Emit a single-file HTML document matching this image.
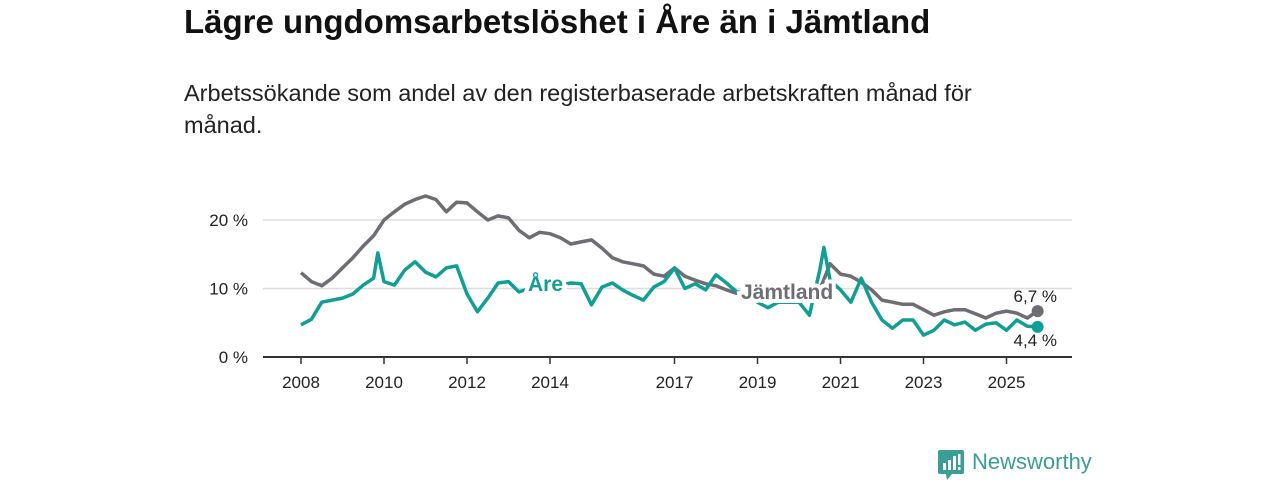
<!DOCTYPE html>
<html><head><meta charset="utf-8"><style>
body{margin:0;width:1280px;height:480px;background:#fff;font-family:"Liberation Sans","DejaVu Sans",sans-serif;overflow:hidden;position:relative}
h1{position:absolute;left:184px;top:3px;margin:0;font-size:33px;font-weight:bold;color:#111}
p{position:absolute;left:184px;top:77px;margin:0;font-size:23.5px;line-height:32px;color:#222;width:850px}
svg{position:absolute;left:0;top:0}
</style></head><body>
<h1>Lägre ungdomsarbetslöshet i Åre än i Jämtland</h1>
<p>Arbetssökande som andel av den registerbaserade arbetskraften månad för månad.</p>
<svg id="c" width="1280" height="480"></svg>
<script>
const xTickYears=[2008,2010,2012,2014,2017,2019,2021,2023,2025];
const yTicks=[0,10,20];
const jamtT=[2008,2008.25,2008.5,2008.75,2009,2009.25,2009.5,2009.75,2010,2010.25,2010.5,2010.75,2011,2011.25,2011.5,2011.75,2012,2012.25,2012.5,2012.75,2013,2013.25,2013.5,2013.75,2014,2014.25,2014.5,2014.75,2015,2015.25,2015.5,2015.75,2016,2016.25,2016.5,2016.75,2017,2017.25,2017.5,2017.75,2018,2018.25,2018.5,2018.75,2019,2019.25,2019.5,2019.75,2020,2020.25,2020.5,2020.75,2021,2021.25,2021.5,2021.75,2022,2022.25,2022.5,2022.75,2023,2023.25,2023.5,2023.75,2024,2024.25,2024.5,2024.75,2025,2025.25,2025.5,2025.75];
const jamtV=[12.3,11,10.4,11.5,13,14.5,16.2,17.7,20,21.2,22.3,23,23.5,23,21.2,22.6,22.5,21.2,20,20.6,20.3,18.5,17.4,18.2,18,17.4,16.5,16.8,17.1,15.9,14.5,13.9,13.6,13.3,12.1,11.8,13,11.8,11.2,10.7,10.4,9.8,9.3,9.2,9,8.8,8.8,8.9,9,9,9.8,13.6,12.1,11.8,10.9,9.8,8.3,8,7.7,7.7,6.9,6.1,6.6,6.9,6.9,6.3,5.7,6.4,6.7,6.4,5.7,6.7];
const areT=[2008,2008.25,2008.5,2008.75,2009,2009.25,2009.5,2009.75,2009.85,2010,2010.25,2010.5,2010.75,2011,2011.25,2011.5,2011.75,2012,2012.25,2012.5,2012.75,2013,2013.25,2013.5,2013.75,2014,2014.25,2014.5,2014.75,2015,2015.25,2015.5,2015.75,2016,2016.25,2016.5,2016.75,2017,2017.25,2017.5,2017.75,2018,2018.25,2018.5,2018.75,2019,2019.25,2019.5,2019.75,2020,2020.25,2020.5,2020.6,2020.75,2021,2021.25,2021.5,2021.75,2022,2022.25,2022.5,2022.75,2023,2023.25,2023.5,2023.75,2024,2024.25,2024.5,2024.75,2025,2025.25,2025.5,2025.75];
const areV=[4.7,5.5,8,8.3,8.6,9.2,10.5,11.5,15.2,11,10.5,12.7,13.9,12.4,11.7,13,13.3,9.2,6.6,8.6,10.8,11,9.5,10,10.5,10.5,10.5,10.8,10.7,7.6,10.2,10.8,9.8,9,8.3,10.2,11,13,10,10.7,9.8,12,10.8,9.5,9.3,8,7.2,8,8,8,6.1,12.7,16,11.2,9.8,8,11.5,8,5.4,4.2,5.4,5.4,3.2,3.9,5.4,4.7,5.1,3.9,4.8,5,3.9,5.4,4.5,4.4];
const NS='http://www.w3.org/2000/svg',svg=document.getElementById('c');
const X=t=>301+(t-2008)*41.5, Y=v=>357-v*6.85;
function mk(tag,a,txt){const e=document.createElementNS(NS,tag);for(const k in a)e.setAttribute(k,a[k]);if(txt!=null)e.textContent=txt;svg.appendChild(e);return e;}
yTicks.forEach(v=>{
 if(v>0){const g=mk('line',{x1:263,x2:1072,y1:Y(v),y2:Y(v),stroke:'#ddd','stroke-width':1.5});
 
 }
 const l=mk('text',{x:248,y:Y(v)+6,'text-anchor':'end','font-size':17,fill:'#222'},v+' %');
 
 
});
const ax=mk('line',{x1:263,x2:1072,y1:357,y2:357,stroke:'#333','stroke-width':2});


xTickYears.forEach(y=>{
 const t=mk('line',{x1:X(y),x2:X(y),y1:357,y2:364,stroke:'#333','stroke-width':1.5});
 
 
 const l=mk('text',{x:X(y),y:388,'text-anchor':'middle','font-size':17,fill:'#222'},y);
 
 
});
function line(T,V,col,name){
 const d=T.map((t,i)=>(i?'L':'M')+X(t).toFixed(1)+' '+Y(V[i]).toFixed(1)).join(' ');
 const p=mk('path',{d:d,fill:'none',stroke:col,'stroke-width':3.5,'stroke-linejoin':'round'});
 
 
 const c=mk('circle',{cx:X(T[T.length-1]),cy:Y(V[V.length-1]),r:6,fill:col});
 
 
}
line(jamtT,jamtV,'#6e6d73','jamtland-line');
line(areT,areV,'#119e94','are-line');
const la=mk('text',{x:528,y:291,'font-size':21,'font-weight':'bold',fill:'#119e94',stroke:'#fff','stroke-width':8,'paint-order':'stroke'},'Åre');


const lj=mk('text',{x:741,y:299,'font-size':21,'font-weight':'bold',fill:'#6e6d73',stroke:'#fff','stroke-width':8,'paint-order':'stroke'},'Jämtland');


const v1=mk('text',{x:1057,y:302,'text-anchor':'end','font-size':17,fill:'#222'},'6,7 %');


const v2=mk('text',{x:1057,y:346,'text-anchor':'end','font-size':17,fill:'#222'},'4,4 %');


</script>
<div style="position:absolute;left:938px;top:450px;display:flex;align-items:center">
 <svg width="26" height="30" style="position:static"><rect x="0" y="0" width="26" height="24" rx="2" fill="#3a9e94"/><polygon points="8,24 14,24 9,30" fill="#3a9e94"/><rect x="5" y="13" width="3" height="7" fill="#fff"/><rect x="10" y="10" width="3" height="10" fill="#fff"/><rect x="15" y="6" width="3" height="14" fill="#fff"/><rect x="20" y="4" width="2.5" height="11" fill="#fff"/><rect x="20" y="17" width="2.5" height="3" fill="#fff"/></svg>
 <span style="font-size:22px;color:#3a9e94;margin-left:8px;margin-top:-6px">Newsworthy</span>
</div>
</body></html>
